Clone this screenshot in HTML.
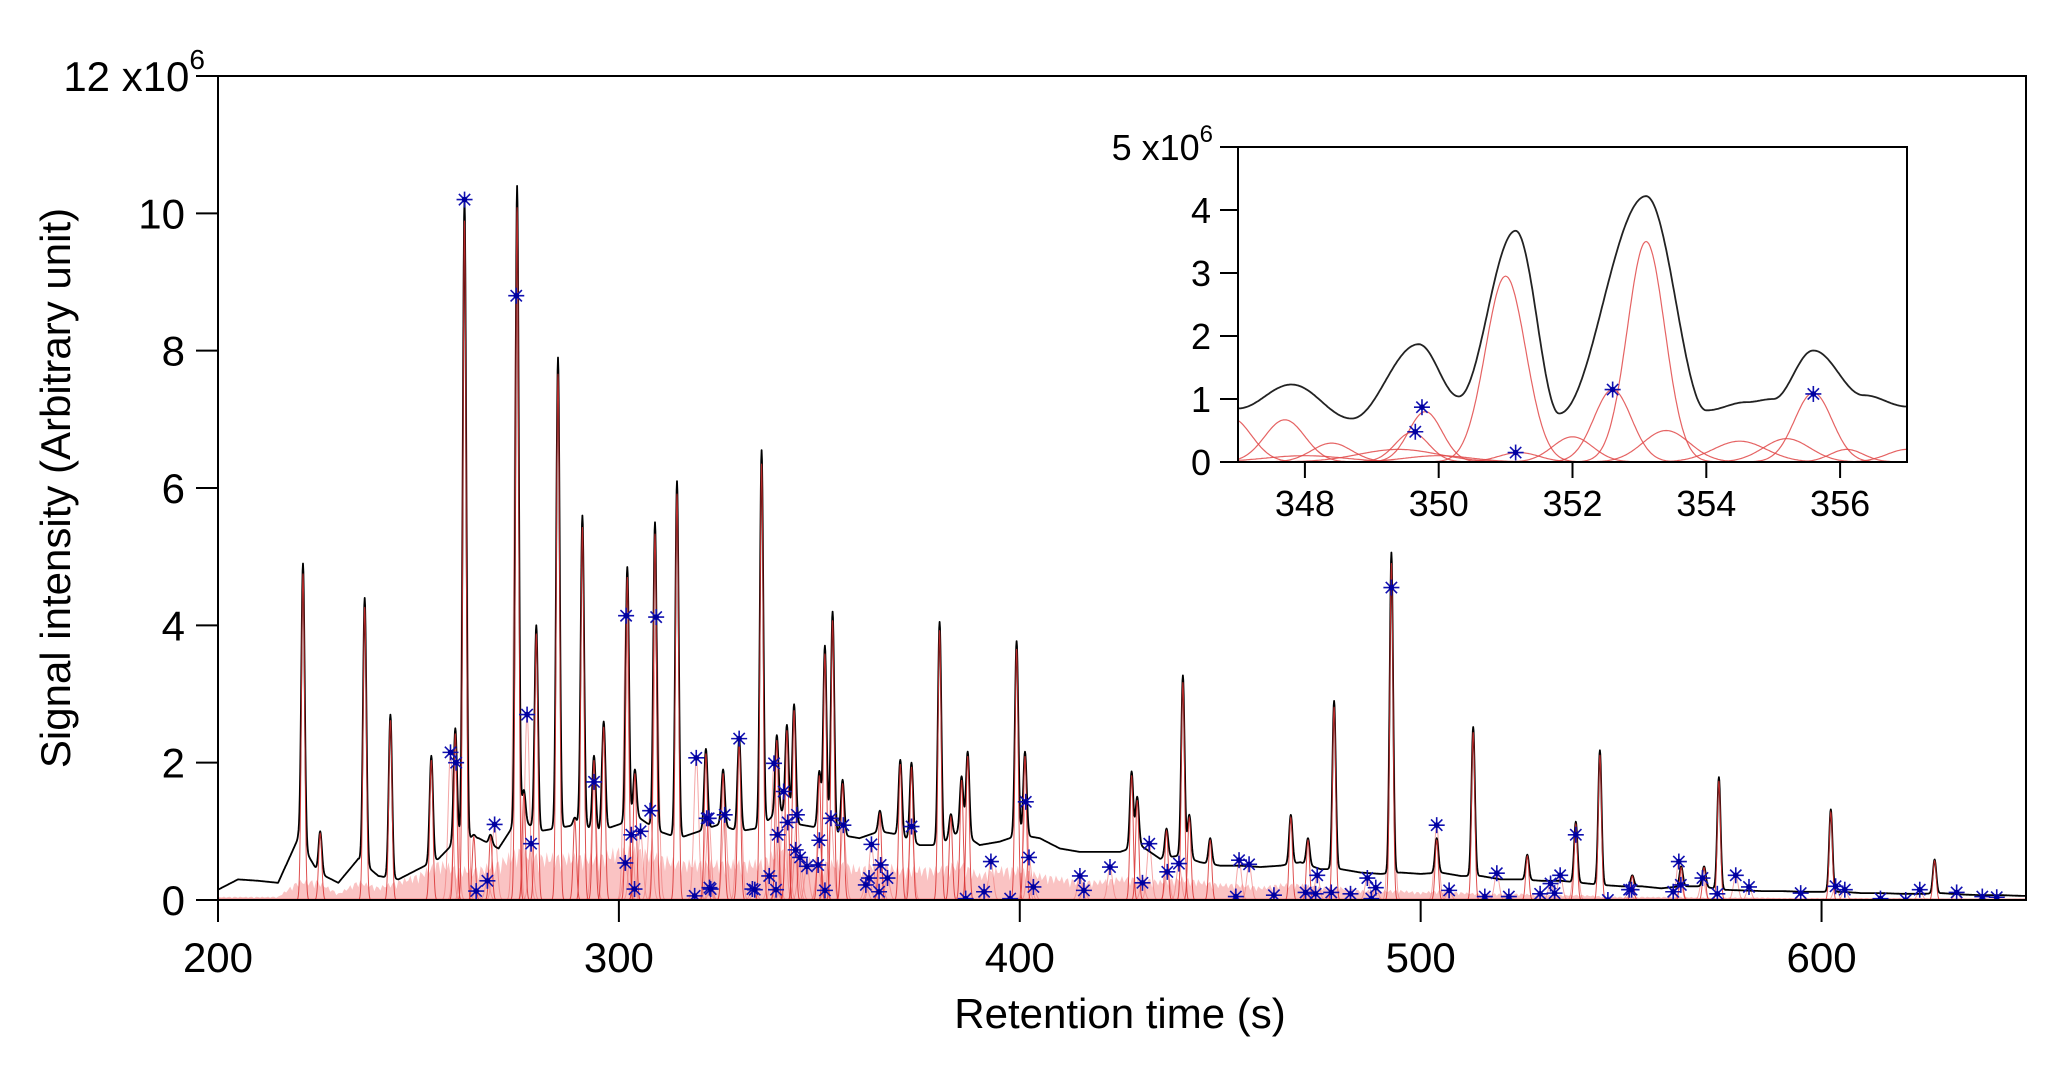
<!DOCTYPE html>
<html><head><meta charset="utf-8"><style>
html,body{margin:0;padding:0;background:#fff;}
svg{display:block;font-family:"Liberation Sans",Arial,sans-serif;}
</style></head><body>
<svg id="chart" width="2067" height="1069" viewBox="0 0 2067 1069" xmlns="http://www.w3.org/2000/svg">
<defs>
<clipPath id="mainClip"><rect x="218" y="76" width="1808" height="824"/></clipPath>
<clipPath id="insetClip"><rect x="1238" y="147" width="669" height="315"/></clipPath>
</defs>
<g id="main"></g>
<g id="inset"></g>
</svg>
<script>
// ---------- main chart data ----------
const xTicks = [200, 300, 400, 500, 600];
const yTicks = [0, 2, 4, 6, 8, 10, 12];
const baseStart = 200, baseStep = 5;
const baseline = [0.15,0.3,0.28,0.25,0.9,0.4,0.25,0.6,0.35,0.3,0.45,0.6,0.9,0.9,0.75,1.2,1.0,1.05,1.1,1.0,1.1,1.2,1.0,0.9,1.0,1.1,1.0,1.05,1.3,1.1,1.05,0.95,0.9,1.0,0.95,0.8,0.8,1.0,0.8,0.85,0.95,0.9,0.75,0.7,0.7,0.7,0.8,0.6,0.65,0.55,0.5,0.5,0.48,0.5,0.55,0.45,0.45,0.4,0.38,0.4,0.38,0.4,0.35,0.35,0.3,0.3,0.28,0.28,0.25,0.22,0.2,0.2,0.17,0.2,0.2,0.15,0.14,0.13,0.13,0.12,0.12,0.12,0.1,0.1,0.09,0.09,0.1,0.08,0.07,0.07,0.06];
const pinkEnvelope = [0.05,0.05,0.05,0.05,0.3,0.3,0.1,0.3,0.2,0.3,0.4,0.6,0.5,0.5,0.6,0.8,0.7,0.7,0.7,0.7,0.8,0.8,0.7,0.6,0.6,0.6,0.6,0.6,0.8,0.7,0.6,0.6,0.5,0.6,0.5,0.5,0.5,0.6,0.4,0.5,0.5,0.4,0.35,0.3,0.3,0.35,0.35,0.3,0.35,0.3,0.25,0.25,0.2,0.25,0.25,0.2,0.2,0.15,0.15,0.15,0.12,0.15,0.12,0.1,0.1,0.1,0.08,0.08,0.08,0.06,0.05,0.05,0.05,0.05,0.04,0.04,0.04,0.04,0.03,0.03,0.03,0.03,0.03,0.03,0.03,0.03,0.02,0.02,0.02,0.02,0.02];
const peakTimes = [221.2,225.5,236.6,243,253.2,259.2,261.5,263.8,268,274.6,276.3,279.4,284.8,289,290.9,293.8,296.2,302.1,304,309,314.5,321.7,326,330,335.6,339.4,341.9,343.7,350,351.4,353.3,355.8,365.1,370.2,373,380,382.8,385.5,387,399.2,401.3,427.9,429.3,436.6,440.7,442.3,447.5,467.6,471.9,478.4,492.7,504,513.1,526.6,538.7,544.7,552.8,565,570.7,574.4,602.3,628.2];
const peakHeights = [4.9,1.0,4.4,2.7,2.1,2.5,10.2,0.95,0.95,10.4,1.6,4.0,7.9,1.2,5.6,2.1,2.6,4.85,1.9,5.5,6.1,2.2,1.9,2.35,6.55,2.4,2.55,2.85,1.87,3.7,4.2,1.75,1.3,2.04,2.0,4.05,1.25,1.8,2.16,3.77,2.16,1.87,1.5,1.04,3.27,1.24,0.9,1.24,0.9,2.9,5.06,0.9,2.52,0.66,1.14,2.18,0.36,0.49,0.49,1.79,1.32,0.59];
const starTimes = [261.5,274.4,277.1,258,259.4,269,278.1,267.2,264.4,293.8,301.8,309.3,301.6,303.1,305.4,307.8,303.9,319.3,322.4,318.9,322.6,321.9,326.4,330,338.7,341.1,339.6,342.1,344.4,344.1,345.2,346.9,349.7,350,352.9,356,363,365.3,367,362.4,361.6,364.9,373,322.9,333.3,333.9,337.5,339.2,351.4,386.5,391.1,392.8,397.6,402.3,401.5,403.4,415,416,422.5,430.6,432.3,436.8,439.7,492.7,504,538.7,454.7,457.2,474.2,486.7,488.8,453.9,463.4,471.3,473.8,477.7,482.5,487.7,507.1,519,516,522,529.8,532.4,534.8,533.4,546.7,552,552.6,564.4,563,564.9,570.3,574,578.6,581.9,594.8,603.5,605.8,614.7,621,624.5,633.7,640.1,643.7];
const starValues = [10.2,8.8,2.7,2.15,2.0,1.1,0.82,0.28,0.13,1.72,4.14,4.12,0.54,0.95,1.0,1.3,0.16,2.07,1.19,0.06,0.18,1.19,1.24,2.35,1.99,1.58,0.95,1.13,1.24,0.73,0.62,0.49,0.51,0.87,1.19,1.09,0.81,0.51,0.32,0.32,0.22,0.12,1.07,0.16,0.16,0.15,0.35,0.15,0.14,0.02,0.12,0.56,0.02,0.62,1.43,0.19,0.35,0.14,0.48,0.25,0.82,0.41,0.53,4.55,1.09,0.95,0.58,0.52,0.36,0.32,0.18,0.05,0.07,0.11,0.09,0.11,0.09,0.02,0.14,0.39,0.05,0.05,0.09,0.24,0.36,0.1,0.0,0.15,0.15,0.56,0.12,0.22,0.32,0.09,0.36,0.19,0.1,0.2,0.15,0.02,0.0,0.15,0.11,0.05,0.04];

// ---------- inset data ----------
const insetXTicks = [348, 350, 352, 354, 356];
const insetYTicks = [0, 1, 2, 3, 4, 5];
const insetBlackT = [347,347.8,348.7,349.7,350.3,351.15,351.8,353.1,354,354.6,355,355.6,356.35,357];
const insetBlackV = [0.85,1.23,0.69,1.87,1.04,3.67,0.77,4.22,0.82,0.95,1.0,1.77,1.06,0.88];
const compCenters = [346.9,347.7,348.4,349.4,349.8,349.6,351.0,351.2,352.0,352.6,353.1,353.4,354.5,355.2,355.6,356.1,357.0,348.0,350.0];
const compHeights = [0.7,0.67,0.3,0.2,0.8,0.47,2.95,0.15,0.4,1.15,3.5,0.5,0.33,0.37,1.1,0.2,0.2,0.1,0.1];
const compWidths = [0.3,0.3,0.3,0.6,0.25,0.25,0.3,0.3,0.3,0.28,0.28,0.35,0.4,0.35,0.28,0.25,0.3,0.6,0.5];
const insetStarT = [349.75,349.65,351.15,352.6,355.6];
const insetStarV = [0.87,0.48,0.15,1.15,1.08];

// ---------- layout ----------
const NS = "http://www.w3.org/2000/svg";
const M = {x0:218, x1:2026, y0:900, y1:76, tmin:200, tmax:651, vmin:0, vmax:12};
const I = {x0:1238, x1:1907, y0:462, y1:147, tmin:347, tmax:357, vmin:0, vmax:5};
const mx = t => M.x0 + (t - M.tmin) / (M.tmax - M.tmin) * (M.x1 - M.x0);
const my = v => M.y0 - (v - M.vmin) / (M.vmax - M.vmin) * (M.y0 - M.y1);
const ix = t => I.x0 + (t - I.tmin) / (I.tmax - I.tmin) * (I.x1 - I.x0);
const iy = v => I.y0 - (v - I.vmin) / (I.vmax - I.vmin) * (I.y0 - I.y1);

function el(tag, attrs, parent){const e=document.createElementNS(NS,tag);for(const k in attrs)e.setAttribute(k,attrs[k]);parent.appendChild(e);return e;}
function interp(arr, t){const f=(t-baseStart)/baseStep;const i=Math.max(0,Math.min(arr.length-2,Math.floor(f)));const u=Math.max(0,Math.min(1,f-i));return arr[i]*(1-u)+arr[i+1]*u;}
const gauss = (t,c,s)=>Math.exp(-0.5*((t-c)/s)**2);

const main = document.getElementById('main');
const inset = document.getElementById('inset');

const gClip = el('g',{'clip-path':'url(#mainClip)'},main);


let d='M'+mx(200)+','+my(0);
for(let t=200;t<=651;t+=0.5){const w=0.55+0.45*Math.abs(Math.sin(t*2.3));d+=' L'+mx(t).toFixed(1)+','+my(interp(pinkEnvelope,t)*w).toFixed(1);}
d+=' L'+mx(651)+','+my(0)+' Z';
const pinkArea = el('path',{d:d,fill:'#f9b8b8',stroke:'none',opacity:'0.85'},gClip);



for(let k=0;k<starTimes.length;k++){
  let p='';
  for(let t=starTimes[k]-2.5;t<=starTimes[k]+2.5;t+=0.1){p+=(p?' L':'M')+mx(t).toFixed(1)+','+my(starValues[k]*gauss(t,starTimes[k],0.6)).toFixed(1);}
  const c = el('path',{d:p,fill:'none',stroke:'#f08080','stroke-width':'1',opacity:'0.7'},gClip);
  
  
}
let bd='';
for(let t=200;t<=651;t+=0.1){
  const b=interp(baseline,t);let v=b;
  for(let k=0;k<peakTimes.length;k++){if(Math.abs(t-peakTimes[k])<3){v+=Math.max(0,peakHeights[k]-interp(baseline,peakTimes[k]))*gauss(t,peakTimes[k],0.42);}}
  bd+=(bd?' L':'M')+mx(t).toFixed(1)+','+my(v).toFixed(1);
}
const tic = el('path',{d:bd,fill:'none',stroke:'#000','stroke-width':'1.8','stroke-linejoin':'round'},gClip);


for(let k=0;k<peakTimes.length;k++){
  let p='';
  for(let t=peakTimes[k]-2;t<=peakTimes[k]+2;t+=0.05){p+=(p?' L':'M')+mx(t).toFixed(1)+','+my(0.97*peakHeights[k]*gauss(t,peakTimes[k],0.4)).toFixed(1);}
  const c = el('path',{d:p,fill:'none',stroke:'#d83030','stroke-width':'1',opacity:'0.85'},gClip);
  
  
}
const zeroLine = el('line',{x1:M.x0,x2:M.x1,y1:my(0),y2:my(0),stroke:'#e03030','stroke-width':'2.5'},gClip);



function star(parent,cx,cy,r){
  const g=el('g',{stroke:'#1010b0','stroke-width':'1.6'},parent);
  
  
  for(let a=0;a<4;a++){const th=a*Math.PI/4;el('line',{x1:cx-r*Math.cos(th),y1:cy-r*Math.sin(th),x2:cx+r*Math.cos(th),y2:cy+r*Math.sin(th)},g);}
  el('circle',{cx:cx,cy:cy,r:r*0.35,fill:'#0000a0',stroke:'none'},g);
}
for(let k=0;k<starTimes.length;k++) star(gClip,mx(starTimes[k]),my(starValues[k]),8);

const frame = el('rect',{x:M.x0,y:M.y1,width:M.x1-M.x0,height:M.y0-M.y1,fill:'none',stroke:'#000','stroke-width':'2'},main);


for(const v of yTicks){
  const t=el('line',{x1:196,x2:M.x0,y1:my(v),y2:my(v),stroke:'#000','stroke-width':'2'},main);
  
  
  const lb=el('text',{x:185,y:my(v)+15,'text-anchor':'end','font-size':'42'},main);
  
  
  if(v===12){lb.textContent='12 x10';lb.setAttribute('x',205);const s=el('tspan',{dy:'-22','font-size':'28'},lb);s.textContent='6';}
  else lb.textContent=String(v);
}
for(const v of xTicks){
  const t=el('line',{x1:mx(v),x2:mx(v),y1:M.y0,y2:922,stroke:'#000','stroke-width':'2'},main);
  
  
  const lb=el('text',{x:mx(v),y:972,'text-anchor':'middle','font-size':'42'},main);
  
  
  lb.textContent=String(v);
}
const xt=el('text',{x:1120,y:1028,'text-anchor':'middle','font-size':'42'},main);


xt.textContent='Retention time (s)';
const yt=el('text',{x:0,y:0,'text-anchor':'middle','font-size':'42',transform:'translate(70,488) rotate(-90)'},main);


yt.textContent='Signal intensity (Arbitrary unit)';

el('rect',{x:I.x0,y:I.y1,width:I.x1-I.x0,height:I.y0-I.y1,fill:'#fff',stroke:'none'},inset);
const ic = el('g',{'clip-path':'url(#insetClip)'},inset);


for(let k=0;k<compCenters.length;k++){
  let p='';
  for(let t=347;t<=357;t+=0.02){p+=(p?' L':'M')+ix(t).toFixed(1)+','+iy(compHeights[k]*gauss(t,compCenters[k],compWidths[k])).toFixed(1);}
  const c=el('path',{d:p,fill:'none',stroke:'#e04848','stroke-width':'1.2',opacity:'0.85'},ic);
  
  
}
let ibd='';
for(let t=347;t<=357.001;t+=0.02){
  let j=0;while(j<insetBlackT.length-2&&t>insetBlackT[j+1])j++;
  const u=Math.max(0,Math.min(1,(t-insetBlackT[j])/(insetBlackT[j+1]-insetBlackT[j])));
  const w=(1-Math.cos(Math.PI*u))/2;
  const v=insetBlackV[j]*(1-w)+insetBlackV[j+1]*w;
  ibd+=(ibd?' L':'M')+ix(t).toFixed(1)+','+iy(v).toFixed(1);
}
const ib=el('path',{d:ibd,fill:'none',stroke:'#222','stroke-width':'1.8'},ic);


for(let k=0;k<insetStarT.length;k++) star(ic,ix(insetStarT[k]),iy(insetStarV[k]),8);
const iframe=el('rect',{x:I.x0,y:I.y1,width:I.x1-I.x0,height:I.y0-I.y1,fill:'none',stroke:'#000','stroke-width':'2'},inset);


for(const v of insetYTicks){
  const t=el('line',{x1:1220,x2:I.x0,y1:iy(v),y2:iy(v),stroke:'#000','stroke-width':'2'},inset);
  
  
  const lb=el('text',{x:1211,y:iy(v)+13,'text-anchor':'end','font-size':'36'},inset);
  
  
  if(v===5){lb.textContent='5 x10';lb.setAttribute('x',1213);const s=el('tspan',{dy:'-18','font-size':'24'},lb);s.textContent='6';}
  else lb.textContent=String(v);
}
for(const v of insetXTicks){
  const t=el('line',{x1:ix(v),x2:ix(v),y1:I.y0,y2:478,stroke:'#000','stroke-width':'2'},inset);
  
  
  const lb=el('text',{x:ix(v),y:516,'text-anchor':'middle','font-size':'36'},inset);
  
  
  lb.textContent=String(v);
}
</script>
</body></html>
